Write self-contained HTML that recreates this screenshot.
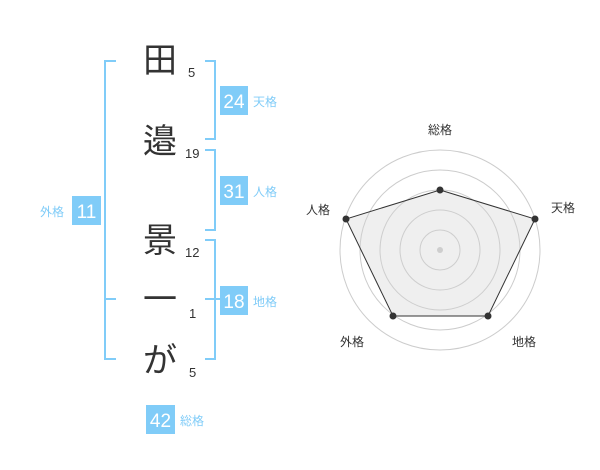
<!DOCTYPE html>
<html><head><meta charset="utf-8"><style>
html,body{margin:0;padding:0;background:#fff;}
svg{display:block}
text{font-family:"Liberation Sans","Noto Sans CJK JP",sans-serif;}
</style></head><body>
<svg width="600" height="470" viewBox="0 0 600 470" xmlns="http://www.w3.org/2000/svg">
<g stroke="#80ccf8" stroke-width="2" fill="none">
<polyline points="116,61 105,61 105,359 116,359"/>
<line x1="105" y1="299" x2="116" y2="299"/>
<polyline points="205,61 215,61 215,139 205,139"/>
<polyline points="205,150 215,150 215,230 205,230"/>
<polyline points="205,240 215,240 215,359 205,359"/>
<line x1="205" y1="299" x2="220" y2="299"/>
</g>
<g fill="#80ccf8">
<rect x="220" y="86" width="28" height="29"/>
<rect x="220" y="176" width="28" height="29"/>
<rect x="220" y="286" width="28" height="29"/>
<rect x="72" y="196" width="29" height="29"/>
<rect x="146" y="405" width="29" height="29"/>
</g>
<g fill="#fff" font-size="19" text-anchor="middle">
<text x="234" y="108">24</text>
<text x="234" y="198">31</text>
<text x="234" y="308">18</text>
<text x="86.5" y="218">11</text>
<text x="160.5" y="427">42</text>
</g>
<g fill="#80ccf8" font-size="12">
<text x="253" y="106">天格</text>
<text x="253" y="196">人格</text>
<text x="253" y="306">地格</text>
<text x="40" y="216">外格</text>
<text x="180" y="425">総格</text>
</g>
<g fill="#333" font-size="34" text-anchor="middle">
<text x="160" y="72">田</text>
<text x="160" y="153">邉</text>
<text x="160" y="252">景</text>
<text x="160" y="311">一</text>
<text x="160" y="372">が</text>
</g>
<g fill="#333" font-size="13">
<text x="188" y="77">5</text>
<text x="185" y="158">19</text>
<text x="185" y="257">12</text>
<text x="189" y="318">1</text>
<text x="189" y="377">5</text>
</g>
<g fill="none" stroke="#ccc" stroke-width="1">
<circle cx="440" cy="250" r="100"/>
<circle cx="440" cy="250" r="80"/>
<circle cx="440" cy="250" r="60"/>
<circle cx="440" cy="250" r="40"/>
<circle cx="440" cy="250" r="20"/>
</g>
<circle cx="440" cy="250" r="3" fill="#ccc"/>
<polygon points="440,190 535,219 488,316 393,316 346,219" fill="rgba(210,210,210,0.35)" stroke="#333" stroke-width="1"/>
<g fill="#333">
<circle cx="440" cy="190" r="3.5"/>
<circle cx="535" cy="219" r="3.5"/>
<circle cx="488" cy="316" r="3.5"/>
<circle cx="393" cy="316" r="3.5"/>
<circle cx="346" cy="219" r="3.5"/>
</g>
<g fill="#333" font-size="12" text-anchor="middle">
<text x="440" y="134">総格</text>
<text x="563" y="212">天格</text>
<text x="524" y="346">地格</text>
<text x="352" y="346">外格</text>
<text x="318" y="214">人格</text>
</g>
</svg>
</body></html>
